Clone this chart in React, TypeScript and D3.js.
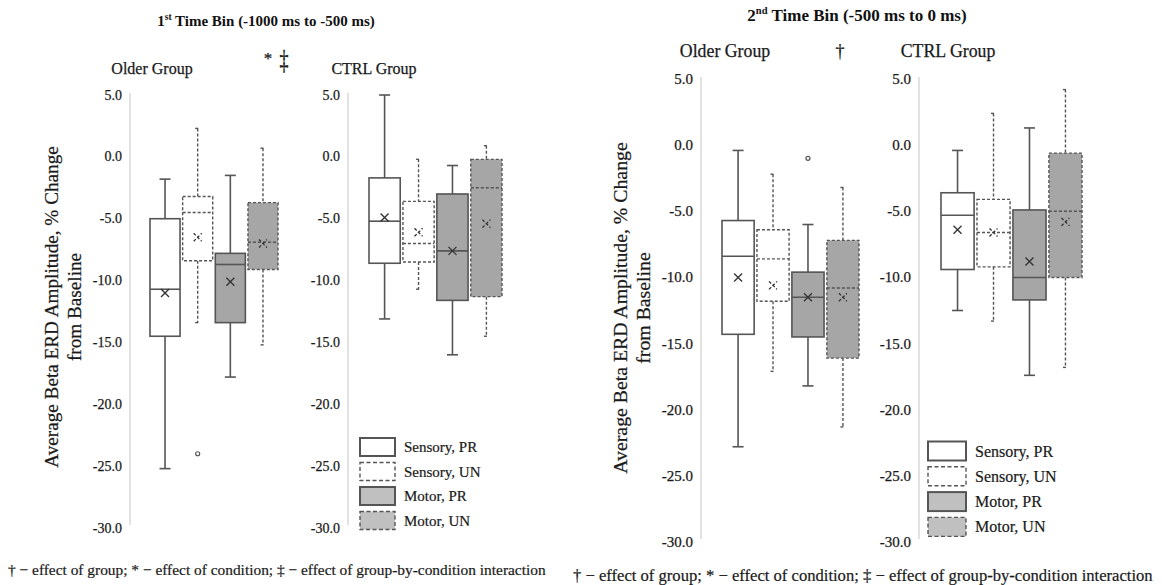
import React from "react";
import * as d3 from "d3";

// ---------- data ----------
const conditions = ["Sensory, PR", "Sensory, UN", "Motor, PR", "Motor, UN"];
const isDashed = [false, true, false, true];
const isMotor = [false, false, true, true];
const yTicks = [5, 0, -5, -10, -15, -20, -25, -30];

type Stat = { low: number; q1: number; med: number; q3: number; high: number; mean: number };

const bin1Older: Stat[] = [
  { low: -25.2, q1: -14.5, med: -10.7, q3: -5.0, high: -1.8, mean: -11.0 },
  { low: -13.4, q1: -8.4, med: -4.5, q3: -3.2, high: 2.3, mean: -6.5 },
  { low: -17.8, q1: -13.4, med: -8.7, q3: -7.8, high: -1.5, mean: -10.1 },
  { low: -15.2, q1: -9.1, med: -6.9, q3: -3.7, high: 0.7, mean: -7.0 },
];
const bin1Ctrl: Stat[] = [
  { low: -13.1, q1: -8.6, med: -5.2, q3: -1.7, high: 5.0, mean: -4.9 },
  { low: -10.7, q1: -8.5, med: -7.0, q3: -3.6, high: -0.2, mean: -6.1 },
  { low: -16.0, q1: -11.6, med: -7.6, q3: -3.0, high: -0.7, mean: -7.6 },
  { low: -14.5, q1: -11.3, med: -2.5, q3: -0.2, high: 0.9, mean: -5.4 },
];
const bin2Older: Stat[] = [
  { low: -22.8, q1: -14.3, med: -8.4, q3: -5.7, high: -0.4, mean: -10.0 },
  { low: -17.1, q1: -11.8, med: -8.6, q3: -6.4, high: -2.2, mean: -10.6 },
  { low: -18.2, q1: -14.5, med: -11.5, q3: -9.6, high: -6.0, mean: -11.5 },
  { low: -21.3, q1: -16.1, med: -10.8, q3: -7.2, high: -3.2, mean: -11.5 },
];
const bin2Ctrl: Stat[] = [
  { low: -12.5, q1: -9.4, med: -5.3, q3: -3.6, high: -0.4, mean: -6.4 },
  { low: -13.3, q1: -9.2, med: -6.6, q3: -4.1, high: 2.4, mean: -6.6 },
  { low: -17.4, q1: -11.7, med: -10.0, q3: -4.9, high: 1.3, mean: -8.8 },
  { low: -16.8, q1: -10.0, med: -5.0, q3: -0.6, high: 4.2, mean: -5.8 },
];
const bin1OlderOutliers = [{ cond: 1, value: -24.0 }];
const bin2OlderOutliers = [{ cond: 2, value: -1.0 }];
const bin1CtrlOutliers: { cond: number; value: number }[] = [];
const bin2CtrlOutliers: { cond: number; value: number }[] = [];

const footnote =
  "† − effect of group; * − effect of condition; ‡ − effect of group-by-condition interaction";

// ---------- style ----------
const FONT = "'Liberation Serif', 'Times New Roman', serif";
const BOX_FILL = "#a6a6a6";
const LEGEND_FILL = "#c0c0c0";
const STROKE = "#555555";
const AXIS = "#d9d9d9";
const TEXT = "#1a1a1a";

type SubProps = {
  data: Stat[];
  outliers: { cond: number; value: number }[];
  axisX: number;
  xRange: [number, number];
  yRange: [number, number];
  tickSize: number;
};

function SubPlot({ data, outliers, axisX, xRange, yRange, tickSize }: SubProps) {
  const y = d3.scaleLinear().domain([-30, 5]).range(yRange);
  const x = d3.scaleBand<string>().domain(conditions).range(xRange).paddingInner(0.08);
  const bw = x.bandwidth();
  return (
    <g>
      <line x1={axisX} x2={axisX} y1={y(5) - 2} y2={y(-30) - 3} stroke={AXIS} strokeWidth={1.5} />
      {yTicks.map((t) => (
        <text
          key={t}
          x={axisX - 8}
          y={y(t)}
          textAnchor="end"
          dominantBaseline="central"
          fontSize={tickSize}
          fontFamily={FONT}
          fill={TEXT}
          stroke={TEXT}
          strokeWidth={0.25}
        >
          {t.toFixed(1)}
        </text>
      ))}
      {data.map((s, i) => {
        const c = conditions[i];
        const x0 = x(c) as number;
        const cx = x0 + bw / 2;
        const dash = isDashed[i] ? "3,2" : undefined;
        const sw = isDashed[i] ? 1.4 : 1.6;
        const capW = isDashed[i] ? 5 : 11;
        const m = 4;
        return (
          <g key={c} stroke={STROKE} strokeWidth={sw} strokeDasharray={dash} fill="none">
            <line x1={cx} x2={cx} y1={y(s.high)} y2={y(s.q3)} />
            <line x1={cx} x2={cx} y1={y(s.q1)} y2={y(s.low)} />
            <line x1={cx - capW / 2} x2={cx + capW / 2} y1={y(s.high)} y2={y(s.high)} strokeDasharray={undefined} />
            <line x1={cx - capW / 2} x2={cx + capW / 2} y1={y(s.low)} y2={y(s.low)} strokeDasharray={undefined} />
            <rect
              x={x0}
              y={y(s.q3)}
              width={bw}
              height={y(s.q1) - y(s.q3)}
              fill={isMotor[i] ? BOX_FILL : "#fff"}
            />
            <line x1={x0} x2={x0 + bw} y1={y(s.med)} y2={y(s.med)} />
            <g strokeDasharray={undefined} strokeWidth={1.3} stroke="#333">
              <line x1={cx - m} x2={cx + m} y1={y(s.mean) - m} y2={y(s.mean) + m} />
              <line x1={cx - m} x2={cx + m} y1={y(s.mean) + m} y2={y(s.mean) - m} />
            </g>
          </g>
        );
      })}
      {outliers.map((o, k) => {
        const cx = (x(conditions[o.cond]) as number) + bw / 2;
        return <circle key={k} cx={cx} cy={y(o.value)} r={2} fill="none" stroke={STROKE} strokeWidth={1.2} />;
      })}
    </g>
  );
}

function Legend({ x0, y0, step, w, h, fontSize }: { x0: number; y0: number; step: number; w: number; h: number; fontSize: number }) {
  return (
    <g>
      {conditions.map((c, i) => (
        <g key={c}>
          <rect
            x={x0}
            y={y0 + i * step - h / 2}
            width={w}
            height={h}
            fill={isMotor[i] ? LEGEND_FILL : "#fff"}
            stroke={STROKE}
            strokeWidth={isDashed[i] ? 1.4 : 2}
            strokeDasharray={isDashed[i] ? "4,2.5" : undefined}
          />
          <text
            x={x0 + w + 9}
            y={y0 + i * step}
            dominantBaseline="central"
            fontSize={fontSize}
            fontFamily={FONT}
            fill={TEXT}
            stroke={TEXT}
            strokeWidth={0.2}
          >
            {c}
          </text>
        </g>
      ))}
    </g>
  );
}

export default function App() {
  return (
    <svg
      width={1163}
      height={585}
      style={{ position: "absolute", left: 0, top: 0, background: "#fff" }}
      fontFamily={FONT}
    >
      <rect width={1163} height={585} fill="#fff" />
      {/* ---------- Left panel: 1st time bin ---------- */}
      <text x={266} y={26} textAnchor="middle" fontSize={15} fontWeight="bold" fill="#111">
        1<tspan fontSize={9.5} dy={-6}>st</tspan>
        <tspan dy={6}> Time Bin (-1000 ms to -500 ms)</tspan>
      </text>
      <g fill={TEXT} stroke={TEXT} strokeWidth={0.25}>
        <text x={152} y={74} textAnchor="middle" fontSize={16}>Older Group</text>
        <text x={374} y={74} textAnchor="middle" fontSize={16}>CTRL Group</text>
        <text x={268} y={64} textAnchor="middle" fontSize={17}>*</text>
        <text transform="translate(284,69) scale(1,1.55)" textAnchor="middle" fontSize={18}>‡</text>
        <text transform="translate(58,307) rotate(-90)" textAnchor="middle" fontSize={19.2}>
          <tspan x={0} dy={0}>Average Beta ERD Amplitude, % Change</tspan>
          <tspan x={0} dy={23}>from Baseline</tspan>
        </text>
      </g>
      <SubPlot data={bin1Older} outliers={bin1OlderOutliers} axisX={130} xRange={[150, 278]} yRange={[528, 95]} tickSize={14} />
      <SubPlot data={bin1Ctrl} outliers={bin1CtrlOutliers} axisX={348} xRange={[369, 502]} yRange={[528, 95]} tickSize={14} />
      <Legend x0={360} y0={447} step={24.5} w={35} h={18} fontSize={15} />
      <text x={8} y={575} fontSize={15.4} fill={TEXT} stroke={TEXT} strokeWidth={0.2}>{footnote}</text>

      {/* ---------- Right panel: 2nd time bin ---------- */}
      <text x={857} y={21} textAnchor="middle" fontSize={17} fontWeight="bold" fill="#111">
        2<tspan fontSize={10.5} dy={-7}>nd</tspan>
        <tspan dy={7}> Time Bin (-500 ms to 0 ms)</tspan>
      </text>
      <g fill={TEXT} stroke={TEXT} strokeWidth={0.25}>
        <text x={725} y={57} textAnchor="middle" fontSize={17.8}>Older Group</text>
        <text x={948} y={57} textAnchor="middle" fontSize={17.8}>CTRL Group</text>
        <text x={840} y={57} textAnchor="middle" fontSize={18}>†</text>
        <text transform="translate(627,308) rotate(-90)" textAnchor="middle" fontSize={19.8}>
          <tspan x={0} dy={0}>Average Beta ERD Amplitude, % Change</tspan>
          <tspan x={0} dy={23}>from Baseline</tspan>
        </text>
      </g>
      <SubPlot data={bin2Older} outliers={bin2OlderOutliers} axisX={701} xRange={[722, 859]} yRange={[542, 79]} tickSize={15} />
      <SubPlot data={bin2Ctrl} outliers={bin2CtrlOutliers} axisX={919} xRange={[941, 1082]} yRange={[542, 79]} tickSize={15} />
      <Legend x0={928} y0={451} step={25.3} w={38} h={19} fontSize={16} />
      <text x={573} y={581} fontSize={16.6} fill={TEXT} stroke={TEXT} strokeWidth={0.2}>{footnote}</text>
    </svg>
  );
}
